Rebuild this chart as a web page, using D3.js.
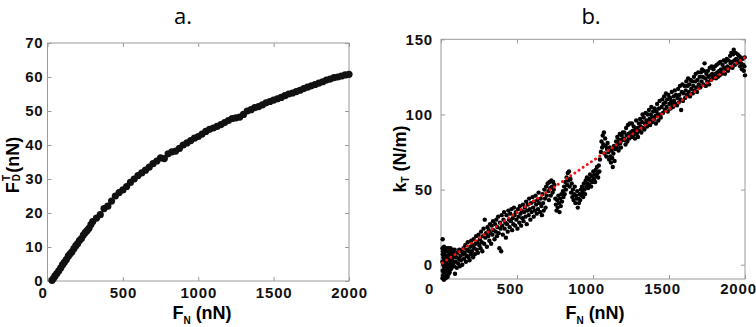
<!DOCTYPE html>
<html>
<head>
<meta charset="utf-8">
<script src="https://cdn.jsdelivr.net/npm/d3@7"></script>
<style>
  body { margin: 0; background: #fff; }
  svg { display: block; }
</style>
</head>
<body>
<div id="chart"></div>
<script>
// panel a: tangential force vs normal force
var aForce = [30, 40, 50, 62, 75, 88, 100, 112, 125, 138, 150, 162, 175, 188, 200, 212, 225, 238, 250, 262, 275, 288, 300,
  325, 350, 375, 400, 425, 450, 475, 500, 525, 550, 575, 600, 625, 650, 675, 700, 725, 750, 775, 800,
  825, 850, 875, 900, 925, 950, 975, 1000, 1025, 1050, 1075, 1100, 1125, 1150, 1175, 1200, 1225, 1250,
  1275, 1300, 1325, 1350, 1375, 1400, 1425, 1450, 1475, 1500, 1525, 1550, 1575, 1600, 1625, 1650, 1675,
  1700, 1725, 1750, 1775, 1800, 1825, 1850, 1875, 1900, 1925, 1950, 1975, 2000];
var aDrag = [0.2, 0.8, 1.5, 2.2, 3.0, 3.9, 4.8, 5.5, 6.3, 7.3, 8.0, 8.6, 9.5, 10.4, 11.0, 11.9, 12.5, 13.5, 14.2, 14.8, 15.5, 16.6, 17.5,
  18.5, 19.5, 21.3, 22.0, 23.5, 25.0, 26.0, 26.8, 27.8, 29.0, 30.0, 31.0, 31.8, 32.6, 33.5, 34.5, 35.3, 36.2, 36.0, 37.4,
  38.0, 38.2, 39.0, 40.0, 40.6, 41.3, 42.0, 42.5, 43.2, 44.0, 44.6, 45.0, 45.5, 46.0, 46.6, 47.2, 47.8, 48.0,
  48.2, 49.0, 50.0, 50.4, 51.0, 51.3, 51.8, 52.4, 52.8, 53.2, 53.6, 54.0, 54.5, 55.0, 55.3, 55.7, 56.1,
  56.6, 57.0, 57.4, 57.8, 58.2, 58.6, 59.1, 59.4, 59.8, 60.0, 60.3, 60.6, 60.8];

// panel b: tangential stiffness vs normal force, [F_N, k_T]
var bPoints = [
  [10,-9],[11,-4],[9,2],[12,7],[10,11],[11,17],[14,-7],[15,0],[16,5],[13,9],
  [19,-10],[20,-6],[21,-2],[18,3],[22,8],[20,12],[25,-8],[26,-3],[24,1],[27,6],[25,10],
  [31,-9],[30,-5],[33,-1],[32,4],[29,9],[34,11],[37,-7],[38,-3],[36,2],[39,6],[40,10],
  [44,-8],[45,-4],[43,0],[46,5],[44,9],[48,11],[51,-6],[52,-2],[50,3],[53,7],[55,10],
  [57,-5],[58,-1],[60,4],[59,8],[62,11],[64,-3],[65,1],[66,6],[68,9],[70,-2],[72,3],[71,7],
  [75,10],[77,0],[79,5],[82,8],[84,2],[86,-1],[88,6],[90,10],
  [92,-6],[96,2],[100,5],[104,-2],[108,8],[112,1],[116,4],[120,10],[124,-1],[128,6],[132,3],[136,9],[140,0],[144,7],[148,11],
  [152,4],[156,8],[160,13],[164,2],[168,6],[172,10],[176,15],[180,5],[184,9],[188,3],[192,12],[196,7],[199,16],
  [203,9],[207,13],[211,5],[215,17],[219,11],[223,7],[227,14],[231,19],[235,10],[239,15],[243,8],[247,20],
  [252,13],[256,17],[260,11],[264,22],[268,15],[272,9],[276,19],[280,24],[284,14],[288,30],[292,18],[296,21],
  [302,12],[306,25],[310,19],[314,23],[318,16],[322,27],[326,21],[330,14],[334,26],[338,20],[342,29],[346,23],
  [352,17],[356,27],[360,22],[364,30],[368,19],[372,25],[376,32],[380,21],[384,11],[388,28],[392,24],[396,9],[399,33],
  [403,26],[407,20],[411,30],[415,35],[419,24],[423,28],[427,18],[431,33],[435,27],[439,22],[443,36],[447,30],
  [452,25],[456,34],[460,29],[464,37],[468,23],[472,31],[476,27],[480,38],[484,33],[488,26],[492,35],[496,30],
  [503,24],[507,37],[511,32],[515,28],[519,39],[523,34],[527,26],[531,36],[535,31],[539,40],[543,29],[547,35],
  [552,38],[556,32],[560,42],[564,27],[568,36],[572,40],[576,33],[580,44],[584,37],[588,30],[592,41],[596,35],
  [602,45],[606,38],[610,32],[614,42],[618,36],[622,46],[626,40],[630,34],[634,43],[638,37],[642,48],[646,41],
  [652,35],[656,44],[660,39],[664,33],[668,47],[672,41],[676,36],[680,50],[684,44],[688,38],[692,52],[696,46],
  [702,54],[706,49],[710,43],[714,55],[718,51],[722,46],[726,56],[730,52],[734,48],[738,55],[742,50],[746,53],
  [752,44],[756,40],[760,36],[764,43],[768,38],[772,46],[776,41],[780,35],[784,44],[788,39],[792,47],[796,42],
  [802,49],[806,45],[810,52],[814,47],[818,55],[822,50],[826,58],[830,53],[834,61],[838,56],[842,62],[846,52],
  [852,57],[856,48],[860,54],[864,45],[868,50],[872,43],[876,47],[880,52],[884,41],[888,46],[892,44],[896,49],
  [900,38],[904,44],[908,41],[912,47],[916,43],[920,50],[924,46],[928,52],[932,48],[936,45],[940,54],[944,50],[948,47],
  [952,56],[956,52],[960,58],[964,54],[968,51],[972,57],[976,53],[980,60],[984,56],[988,52],[992,59],[996,55],
  [1002,62],[1006,57],[1010,60],[1014,55],[1018,63],[1022,59],[1026,65],[1030,61],[1034,58],[1038,66],[1042,62],[1046,70],
  [1052,75],[1056,82],[1060,78],[1064,86],[1068,80],[1072,88],[1076,74],[1080,84],[1084,79],[1088,72],[1092,77],[1096,81],
  [1102,75],[1106,70],[1110,78],[1114,72],[1118,68],[1122,76],[1126,71],[1130,65],[1134,74],[1138,79],[1142,69],[1146,77],
  [1152,82],[1156,78],[1160,85],[1164,80],[1168,76],[1172,83],[1176,87],[1180,81],[1184,78],[1188,86],[1192,83],[1196,88],
  [1202,84],[1206,88],[1210,83],[1214,80],[1218,91],[1222,86],[1226,82],[1230,93],[1234,87],[1238,84],[1242,94],[1246,88],
  [1252,85],[1256,94],[1260,89],[1264,86],[1268,92],[1272,88],[1276,84],[1280,90],[1284,96],[1288,87],[1292,91],[1296,85],
  [1302,94],[1306,89],[1310,97],[1314,92],[1318,88],[1322,95],[1326,100],[1330,91],[1334,98],[1338,90],[1342,94],[1346,101],
  [1352,96],[1356,92],[1360,100],[1364,95],[1368,103],[1372,97],[1376,93],[1380,100],[1384,105],[1388,98],[1392,95],[1396,102],
  [1402,97],[1406,104],[1410,99],[1414,94],[1418,102],[1422,107],[1426,100],[1430,96],[1434,104],[1438,109],[1442,100],[1446,98],
  [1452,105],[1456,110],[1460,101],[1464,107],[1468,112],[1472,103],[1476,108],[1480,114],[1484,105],[1488,110],[1492,102],[1496,113],
  [1502,107],[1506,111],[1510,104],[1514,109],[1518,115],[1522,107],[1526,105],[1530,112],[1534,109],[1538,116],[1542,107],[1546,113],
  [1552,106],[1556,111],[1560,117],[1564,108],[1568,113],[1572,119],[1576,110],[1580,103],[1584,115],[1588,120],[1592,109],[1596,114],
  [1602,119],[1606,111],[1610,116],[1614,122],[1618,113],[1622,119],[1626,124],[1630,115],[1634,120],[1638,112],[1642,123],[1646,117],
  [1652,122],[1656,114],[1660,119],[1664,125],[1668,116],[1672,122],[1676,127],[1680,118],[1684,115],[1688,123],[1692,128],[1696,120],
  [1702,125],[1706,118],[1710,128],[1714,122],[1718,130],[1722,125],[1726,120],[1730,129],[1734,134],[1738,124],[1742,119],[1746,127],
  [1752,122],[1756,129],[1760,125],[1764,120],[1768,131],[1772,126],[1776,123],[1780,132],[1784,127],[1788,124],[1792,130],[1796,125],
  [1802,132],[1806,127],[1810,124],[1814,133],[1818,128],[1822,125],[1826,134],[1830,129],[1834,126],[1838,135],[1842,130],[1846,127],
  [1852,133],[1856,128],[1860,136],[1864,131],[1868,127],[1872,135],[1876,130],[1880,137],[1884,132],[1888,129],[1892,136],[1896,131],
  [1902,139],[1906,134],[1910,141],[1914,135],[1918,131],[1922,140],[1926,143],[1930,136],[1934,133],[1938,141],[1942,137],[1946,134],
  [1952,140],[1956,135],[1960,139],[1964,136],[1968,132],[1972,138],[1976,134],[1980,130],[1984,137],[1988,133],[1992,129],[1996,132],[2000,126],[1998,138]
];
// linear fit (red dotted)
var fitForce = [10, 2000];
var fitStiff = [1.2, 138];

var xTicks = [0, 500, 1000, 1500, 2000];
var aYTicks = [0, 10, 20, 30, 40, 50, 60, 70];
var bYTicks = [0, 50, 100, 150];

var FONT = "'Liberation Sans', Arial, Helvetica, sans-serif";

var svg = d3.select("#chart").append("svg")
    .attr("width", 756)
    .attr("height", 327);

// draws box, inward ticks on all sides and labels
function drawFrame(x, y, xt, yt, ypad, xpad, xdx) {
  var g = svg.append("g");
  var x0 = x.range()[0], x1 = x.range()[1];
  var y0 = y.range()[0], y1 = y.range()[1];
  var fmt = d3.format("d");

  var axes = [
    [d3.axisBottom(x).tickValues(xt).tickSize(-4).tickPadding(xpad).tickFormat(fmt), "translate(0," + y0 + ")"],
    [d3.axisTop(x).tickValues(xt).tickSize(-4).tickFormat(""), "translate(0," + y1 + ")"],
    [d3.axisLeft(y).tickValues(yt).tickSize(-4).tickPadding(ypad).tickFormat(fmt), "translate(" + x0 + ",0)"],
    [d3.axisRight(y).tickValues(yt).tickSize(-4).tickFormat(""), "translate(" + x1 + ",0)"]
  ];
  axes.forEach(function(a, i) {
    var ax = g.append("g").attr("transform", a[1]).call(a[0]);
    ax.select(".domain").remove();
    ax.selectAll(".tick line").attr("stroke", "#9a9a9a");
    ax.selectAll("text")
      .attr("fill", "#111")
      .style("font-family", FONT)
      .style("font-size", "15px")
      .style("font-weight", "bold")
      .style("letter-spacing", "0.8px");
    if (i == 0) ax.selectAll("text").attr("dx", function(d) { return d == 0 ? xdx - 5 : xdx; });
  });

  g.append("rect")
    .attr("x", x0).attr("y", y1)
    .attr("width", x1 - x0).attr("height", y0 - y1)
    .attr("fill", "none")
    .attr("stroke", "#9a9a9a")
    .attr("stroke-width", 1);
}

// ---- panel a ----
var xa = d3.scaleLinear().domain([0, 2000]).range([47.5, 349]);
var ya = d3.scaleLinear().domain([0, 70]).range([281, 43]);
drawFrame(xa, ya, xTicks, aYTicks, 4, 6, 0);

svg.append("g").selectAll("circle")
    .data(aForce)
    .enter().append("circle")
    .attr("cx", function(d) { return xa(d); })
    .attr("cy", function(d, i) { return ya(aDrag[i]); })
    .attr("r", 3.6)
    .attr("fill", "#111");

// ---- panel b ----
var xb = d3.scaleLinear().domain([0, 2000]).range([441, 745]);
var yb = d3.scaleLinear().domain([-9.5, 150]).range([279, 39.3]);
drawFrame(xb, yb, xTicks, bYTicks, 8, 4, -7);

svg.append("g").selectAll("circle")
    .data(bPoints)
    .enter().append("circle")
    .attr("cx", function(d) { return xb(d[0]); })
    .attr("cy", function(d) { return yb(d[1]); })
    .attr("r", 2.2)
    .attr("fill", "#000");

svg.append("path")
    .datum(fitForce)
    .attr("d", d3.line()
      .x(function(d) { return xb(d); })
      .y(function(d, i) { return yb(fitStiff[i]); }))
    .attr("fill", "none")
    .attr("stroke", "#f01010")
    .attr("stroke-width", 3)
    .attr("stroke-linecap", "round")
    .attr("stroke-dasharray", "0 5");

// ---- titles ----
svg.append("text").attr("x", 183).attr("y", 24)
    .attr("text-anchor", "middle")
    .style("font-family", "'Open Sans', sans-serif")
    .style("font-size", "22px")
    .text("a.");
svg.append("text").attr("x", 591).attr("y", 24)
    .attr("text-anchor", "middle")
    .style("font-family", "'Open Sans', sans-serif")
    .style("font-size", "22px")
    .text("b.");

// ---- axis labels ----
function xLabel(cx) {
  var t = svg.append("text").attr("x", cx).attr("y", 319)
      .attr("text-anchor", "middle")
      .style("font-family", FONT)
      .style("font-size", "18px").style("font-weight", "bold");
  t.append("tspan").text("F");
  t.append("tspan").attr("dy", 5).style("font-size", "10px").text("N");
  t.append("tspan").attr("dy", -5).text(" (nN)");
}
xLabel(202);
xLabel(595);

var ta = svg.append("text")
    .attr("transform", "translate(19,165) rotate(-90)")
    .attr("text-anchor", "middle")
    .style("font-family", FONT)
    .style("font-size", "18px").style("font-weight", "bold");
ta.append("tspan").text("F");
ta.append("tspan").attr("dx", 1).attr("dy", 1).style("font-size", "10px").text("D");
ta.append("tspan").attr("dx", -7).attr("dy", -10).style("font-size", "10px").text("T");
ta.append("tspan").attr("dx", 2).attr("dy", 9).text("(nN)");

var tb = svg.append("text")
    .attr("transform", "translate(406,159) rotate(-90)")
    .attr("text-anchor", "middle")
    .style("font-family", FONT)
    .style("font-size", "18px").style("font-weight", "bold");
tb.append("tspan").text("k");
tb.append("tspan").attr("dy", 3).style("font-size", "10px").text("T");
tb.append("tspan").attr("dy", -3).text(" (N/m)");
</script>
</body>
</html>
